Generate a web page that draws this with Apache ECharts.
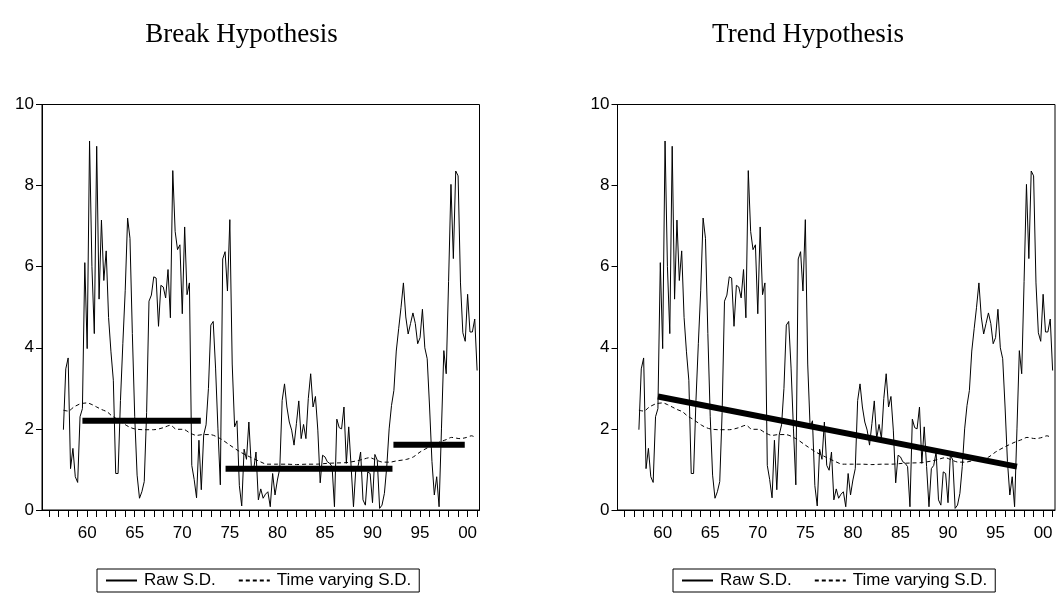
<!DOCTYPE html>
<html><head><meta charset="utf-8">
<script src="https://cdn.jsdelivr.net/npm/echarts@6/dist/echarts.min.js"></script>
<style>html,body{margin:0;padding:0;background:#fff}#c{width:1059px;height:603px}</style>
</head><body><div id="c"></div>
<script>
// ---------------- data ----------------
const panelTitles = ['Break Hypothesis', 'Trend Hypothesis'];
const legendNames = ['Raw S.D.', 'Time varying S.D.'];
const rawStart = 1957.5;           // first quarterly observation
const rawStep = 0.25;              // quarterly
const rawSD = [
  1.98,3.48,3.75,1.02,1.52,0.82,0.68,2.3,2.5,6.1,
  3.98,9.1,6.0,4.35,8.97,5.2,7.15,5.66,6.39,4.75,
  3.9,3.2,0.9,0.9,2.7,4.1,5.42,7.2,6.7,4.35,
  2.3,0.86,0.29,0.45,0.7,2.4,5.15,5.3,5.75,5.72,
  4.53,5.54,5.5,5.23,5.93,4.74,8.37,6.87,6.42,6.54,
  4.84,6.98,5.31,5.6,1.1,0.75,0.3,1.72,0.5,1.85,
  2.1,3.0,4.56,4.65,3.5,2.0,0.62,6.19,6.37,5.4,
  7.16,3.6,2.05,2.2,0.6,0.1,1.5,1.25,2.17,1.1,
  0.98,1.43,0.25,0.52,0.29,0.39,0.45,0.08,0.9,0.37,
  0.74,1.02,2.7,3.11,2.54,2.17,1.97,1.6,2.13,2.69,
  1.76,2.11,1.76,2.75,3.36,2.54,2.8,1.97,0.67,1.35,
  1.31,1.19,1.15,1.07,0.08,2.24,2.03,2.0,2.54,1.15,
  2.05,1.07,0.08,1.02,1.1,1.43,0.25,0.12,0.94,0.9,
  0.18,1.37,1.23,0.04,0.12,0.41,1.07,2.0,2.58,2.95,
  3.92,4.47,5.0,5.6,4.76,4.34,4.6,4.86,4.6,4.1,
  4.25,4.95,4.0,3.73,2.54,1.2,0.37,0.82,0.08,2.0,
  3.93,3.36,5.64,8.03,6.2,8.36,8.24,5.6,4.37,4.16,
  5.32,4.39,4.39,4.71,3.44
];
const tvYears = [1957.5,1958.0,1958.6,1959.3,1960.0,1960.5,1961.0,1961.5,1962.1,1962.6,
  1963.1,1963.6,1964.1,1964.5,1965.0,1965.9,1967.0,1968.0,1968.75,1969.4,
  1970.1,1970.8,1971.5,1972.2,1972.9,1974.0,1975.0,1976.1,1977.1,1978.2,
  1978.9,1980.0,1981.0,1982.0,1983.1,1984.1,1985.2,1986.2,1987.3,1988.3,
  1989.0,1989.7,1990.4,1991.1,1991.8,1992.5,1993.6,1994.3,1995.0,1996.0,
  1997.1,1997.8,1998.3,1999.2,1999.9,2000.4,2000.9];
const tvSD = [2.46,2.44,2.54,2.62,2.64,2.6,2.54,2.48,2.42,2.32,
  2.25,2.17,2.09,2.04,2.0,1.98,1.98,2.03,2.09,1.99,
  1.99,1.9,1.84,1.86,1.86,1.76,1.6,1.43,1.31,1.19,
  1.13,1.13,1.13,1.12,1.13,1.13,1.15,1.16,1.17,1.21,
  1.25,1.29,1.23,1.18,1.18,1.21,1.25,1.31,1.43,1.56,
  1.68,1.74,1.79,1.76,1.79,1.83,1.78];
const breakStarts = [1959.5, 1974.55, 1992.2];
const breakEnds   = [1971.95, 1992.1, 1999.7];
const breakLevels = [2.2, 1.02, 1.61];
const trendYears  = [1959.5, 1997.25];
const trendLevels = [2.8, 1.07];
const xTickYears  = [1956,1957,1958,1959,1960,1961,1962,1963,1964,1965,1966,1967,1968,1969,1970,
  1971,1972,1973,1974,1975,1976,1977,1978,1979,1980,1981,1982,1983,1984,1985,1986,1987,1988,
  1989,1990,1991,1992,1993,1994,1995,1996,1997,1998,1999,2000,2001];
const xLabelYears = [1960,1965,1970,1975,1980,1985,1990,1995,2000];

// ---------------- build ----------------
const rawPairs = rawSD.map((v,i)=>[rawStart + i*rawStep, v]);
const tvPairs = tvSD.map((v,i)=>[tvYears[i], v]);
const sansFamily = "'Liberation Sans Narrow','Arial Narrow','Liberation Sans',Arial,sans-serif";
const tickFont = {fontFamily:sansFamily, fontSize:17, color:'#000'};
const serif = "'Liberation Serif','Times New Roman',serif";

const grids = [
  {left:42, top:104.5, width:437.5, height:405.5, show:true, borderColor:'#000', borderWidth:1, backgroundColor:'transparent'},
  {left:617.5, top:104.5, width:437.5, height:405.5, show:true, borderColor:'#000', borderWidth:1, backgroundColor:'transparent'}
];
const xAxes = grids.map((g,i)=>({
  type:'value', gridIndex:i, min:1955.25, max:2001.25,
  axisLine:{show:true, onZero:false, lineStyle:{color:'#000', width:1}},
  axisTick:{show:true, inside:false, length:7, customValues:xTickYears, lineStyle:{color:'#000'}},
  axisLabel:Object.assign({show:true, margin:15, customValues:xLabelYears,
     formatter:v=>String(Math.round(v)).slice(2)}, tickFont),
  splitLine:{show:false}
}));
const yAxes = grids.map((g,i)=>({
  type:'value', gridIndex:i, min:0, max:10, interval:2,
  axisLine:{show:true, lineStyle:{color:'#000', width:1}},
  axisTick:{show:true, inside:false, length:6, lineStyle:{color:'#000'}},
  axisLabel:Object.assign({show:true, margin:8}, tickFont),
  splitLine:{show:false}
}));

const series = [];
for (let i=0;i<2;i++){
  series.push({name:legendNames[0], type:'line', xAxisIndex:i, yAxisIndex:i, data:rawPairs,
    symbol:'none', lineStyle:{color:'#000', width:1}, itemStyle:{color:'#000'}, z:3, animation:false});
  series.push({name:legendNames[1], type:'line', xAxisIndex:i, yAxisIndex:i, data:tvPairs,
    symbol:'none', smooth:0.3, lineStyle:{color:'#000', width:1, type:[4,3]}, itemStyle:{color:'#000'}, z:3, animation:false});
}
breakLevels.forEach((lv,k)=>{
  series.push({name:'break'+k, type:'line', xAxisIndex:0, yAxisIndex:0,
    data:[[breakStarts[k], lv],[breakEnds[k], lv]], symbol:'none',
    lineStyle:{color:'#000', width:6, cap:'butt'}, z:4, animation:false, silent:true});
});
series.push({name:'trend', type:'line', xAxisIndex:1, yAxisIndex:1,
  data:trendYears.map((y,k)=>[y, trendLevels[k]]), symbol:'none',
  lineStyle:{color:'#000', width:6, cap:'butt'}, z:4, animation:false, silent:true});

const legendBase = {
  data:legendNames, top:569, orient:'horizontal', itemWidth:31, itemHeight:12, itemGap:22,
  borderColor:'#000', borderWidth:1, padding:[3,8,3,8], backgroundColor:'#fff',
  itemStyle:{opacity:0},
  textStyle:{fontFamily:sansFamily, fontSize:17, color:'#000', padding:[0,0,0,2]},
  selectedMode:false
};
const legends = [
  Object.assign({}, legendBase, {left:97}),
  Object.assign({}, legendBase, {left:673})
];

const chart = echarts.init(document.getElementById('c'), null, {renderer:'canvas'});
chart.setOption({
  backgroundColor:'#fff',
  animation:false,
  title:[
    {text:panelTitles[0], left:236.5, top:16, textAlign:'center', textStyle:{fontFamily:serif, fontWeight:'normal', fontSize:27, color:'#000'}},
    {text:panelTitles[1], left:803, top:16, textAlign:'center', textStyle:{fontFamily:serif, fontWeight:'normal', fontSize:27, color:'#000'}}
  ],
  legend:legends,
  grid:grids, xAxis:xAxes, yAxis:yAxes, series:series
});
</script></body></html>
